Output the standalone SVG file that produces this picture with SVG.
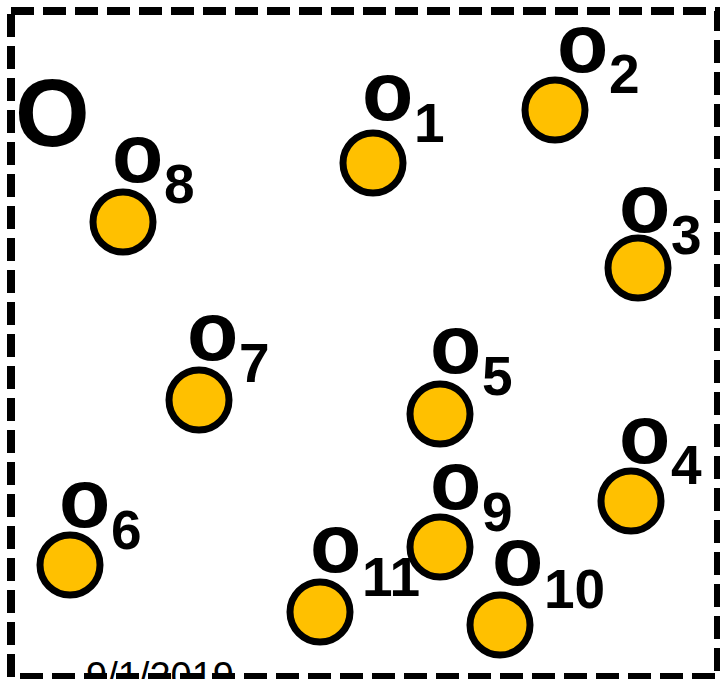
<svg xmlns="http://www.w3.org/2000/svg" width="720" height="679" viewBox="0 0 720 679">
<style>
.pt{fill:#FFC000;stroke:#000;stroke-width:7}
.o{font-family:"Liberation Sans",Arial,sans-serif;font-weight:bold;font-size:84px;fill:#000}
.s{font-family:"Liberation Sans",Arial,sans-serif;font-weight:bold;font-size:55px;fill:#000}
.big{font-family:"Liberation Sans",Arial,sans-serif;font-weight:bold;font-size:96px;fill:#000}
.date{font-family:"Liberation Sans",Arial,sans-serif;font-size:38px;fill:#000}
.frame{fill:none;stroke:#000;stroke-width:8;stroke-dasharray:23 9}
</style>
<rect width="720" height="679" fill="#fff"/>
<rect class="frame" x="11" y="11" width="707" height="666"/>
<text class="date" x="86" y="689">9/1/2019</text>
<text class="big" x="15" y="146">O</text>
<g id="connectors"></g>
<g id="o1"><circle class="pt" cx="373" cy="163" r="30"/><text class="o" x="362" y="120">o</text><text class="s" x="414" y="142">1</text></g>
<g id="o2"><circle class="pt" cx="555" cy="110" r="30"/><text class="o" x="557" y="72">o</text><text class="s" x="609" y="93">2</text></g>
<g id="o3"><circle class="pt" cx="638" cy="268" r="30"/><text class="o" x="619" y="232">o</text><text class="s" x="671" y="254">3</text></g>
<g id="o4"><circle class="pt" cx="631" cy="501" r="30"/><text class="o" x="619" y="463">o</text><text class="s" x="671" y="484">4</text></g>
<g id="o5"><circle class="pt" cx="440" cy="414" r="30"/><text class="o" x="430" y="373">o</text><text class="s" x="482" y="395">5</text></g>
<g id="o6"><circle class="pt" cx="70" cy="565" r="30"/><text class="o" x="59" y="527">o</text><text class="s" x="111" y="549">6</text></g>
<g id="o7"><circle class="pt" cx="199" cy="400" r="30"/><text class="o" x="187" y="360">o</text><text class="s" x="239" y="382">7</text></g>
<g id="o8"><circle class="pt" cx="123" cy="222" r="30"/><text class="o" x="112" y="182">o</text><text class="s" x="164" y="203">8</text></g>
<g id="o9"><circle class="pt" cx="440" cy="547" r="30"/><text class="o" x="430" y="509">o</text><text class="s" x="482" y="531">9</text></g>
<g id="o10"><circle class="pt" cx="500" cy="625" r="30"/><text class="o" x="492" y="585">o</text><text class="s" x="544" y="608">10</text></g>
<g id="o11"><circle class="pt" cx="320" cy="612" r="30"/><text class="o" x="310" y="572">o</text><text class="s" x="362" y="596">11</text></g>
</svg>
